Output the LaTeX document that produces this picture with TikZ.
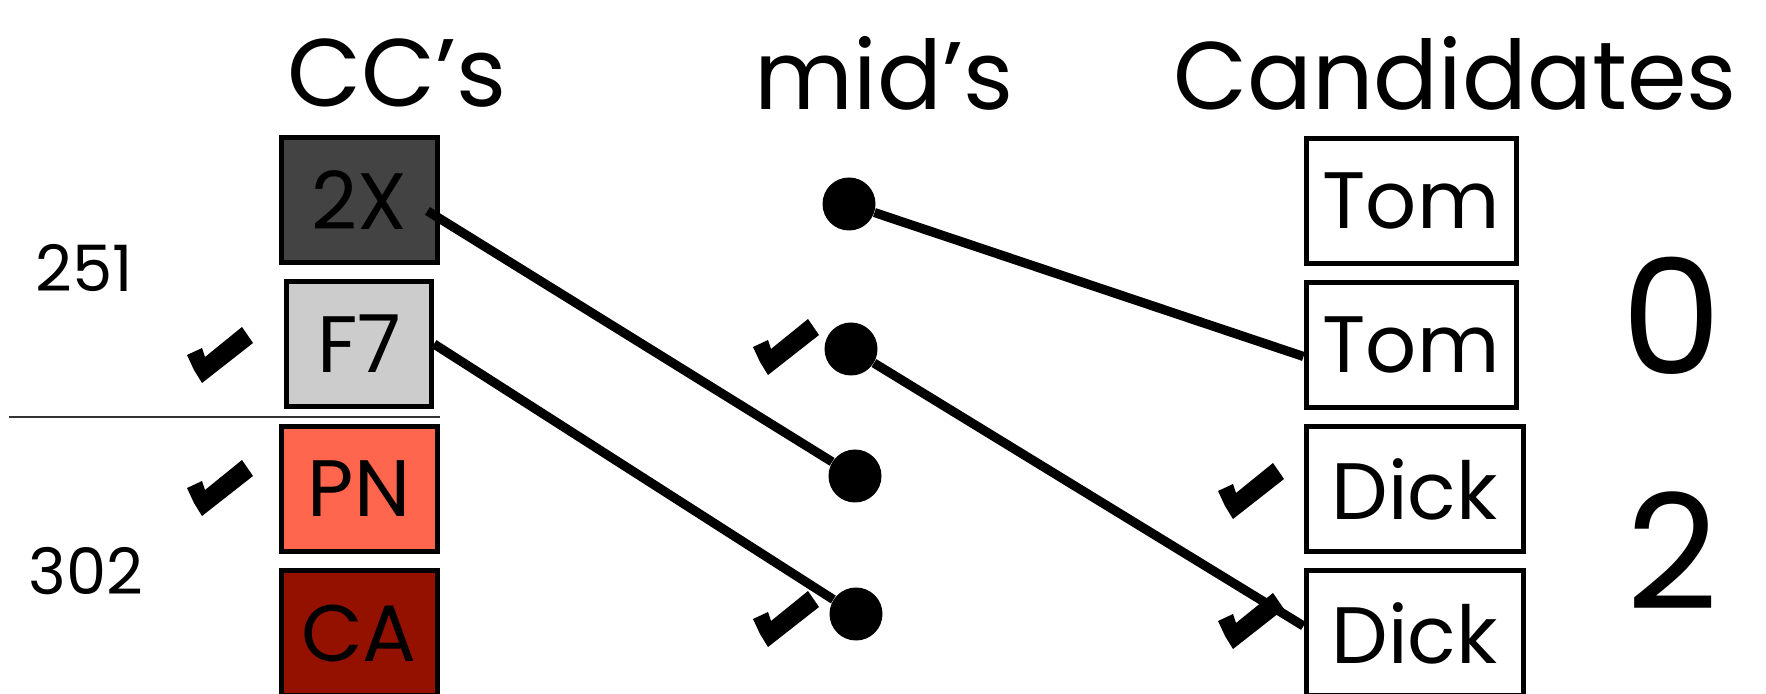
\documentclass[tikz,border=0pt]{standalone}
\usepackage{fontspec}
\setmainfont{Poppins}
\usepackage{xcolor}
\usetikzlibrary{positioning}

\definecolor{darkcc}{HTML}{434343}
\definecolor{lightcc}{HTML}{CCCCCC}
\definecolor{tomatocc}{HTML}{FF664D}
\definecolor{redcc}{HTML}{941100}

\begin{document}
\begin{tikzpicture}[x=0.5pt, y=-0.5pt,
    every node/.style={font=\fontsize{40}{44}\selectfont},
    head/.style={font=\fontsize{48}{52}\selectfont},
    cc/.style={draw, line width=2.5pt, minimum width=78pt, minimum height=62.5pt,
               inner sep=0pt},
    cand/.style={draw, line width=2.5pt, minimum width=105pt, minimum height=62.5pt,
                 inner sep=0pt},
    mid/.style={circle, fill, minimum size=26.5pt, inner sep=0pt},
    wire/.style={line width=4.6pt},
    idnum/.style={font=\fontsize{32}{36}\selectfont},
    votes/.style={font=\fontsize{80}{84}\selectfont},
    tick/.pic={\fill (-33,-1) -- (-18,-8) -- (-15,1) -- (22,-29) -- (33,-13)
                 -- (-18,27) -- (-26,14) -- cycle;},
  ]
  \useasboundingbox (0,0) rectangle (1766,694);

  % column heads
  \node[head] (cchead) at (397,73) {CC’s};
  \node[head] (midhead) at (884,73) {mid’s};
  \node[head] (candhead) at (1455,73) {Candidates};

  % CC's
  \node[cc, fill=darkcc] (cc2x) at (359,200) {2X};
  \node[cc, fill=lightcc, minimum width=72.5pt, below=7pt of cc2x] (ccf7) {F7};
  \node[cc, fill=tomatocc, below=7.5pt of ccf7] (ccpn) {PN};
  \node[cc, fill=redcc, below=7pt of ccpn] (ccca) {CA};

  \coordinate (sepl) at (9,417);
  \draw[line width=1.2pt, black!80] (sepl) -- (sepl -| cc2x.east);

  \node[idnum] (id251) at (84,268) {251};
  \node[idnum] (id302) at (86,571) {302};

  % mid's
  \node[mid] (mid1) at (849,204) {};
  \node[mid] (mid2) at (851,349) {};
  \node[mid] (mid3) at (855,476) {};
  \node[mid] (mid4) at (856,614) {};

  % Candidates
  \node[cand] (tom1) at (1411,201) {Tom};
  \node[cand, below=7pt of tom1] (tom2) {Tom};
  \node[cand, minimum width=108.5pt, below=7pt of tom2.south west,
        anchor=north west] (dick1) {Dick};
  \node[cand, minimum width=108.5pt, below=7pt of dick1] (dick2) {Dick};

  \node[votes] (vtom) at (1672,316) {0};
  \node[votes] (vdick) at (1672,551) {2};

  \draw[wire] ([xshift=-6pt,yshift=-5.5pt]cc2x.east) -- (mid3);
  \draw[wire] (ccf7.east) -- (mid4);
  \draw[wire] (mid1) -- ([yshift=-5.75pt]tom2.west);
  \draw[wire] (mid2) -- ([yshift=3.5pt]dick2.west);

  % checks
  \pic at (220,356) {tick};
  \pic at (220,489) {tick};
  \pic at (786,348) {tick};
  \pic at (786,620) {tick};
  \pic at (1251,492) {tick};
  \pic at (1251,622) {tick};
\end{tikzpicture}
\end{document}
